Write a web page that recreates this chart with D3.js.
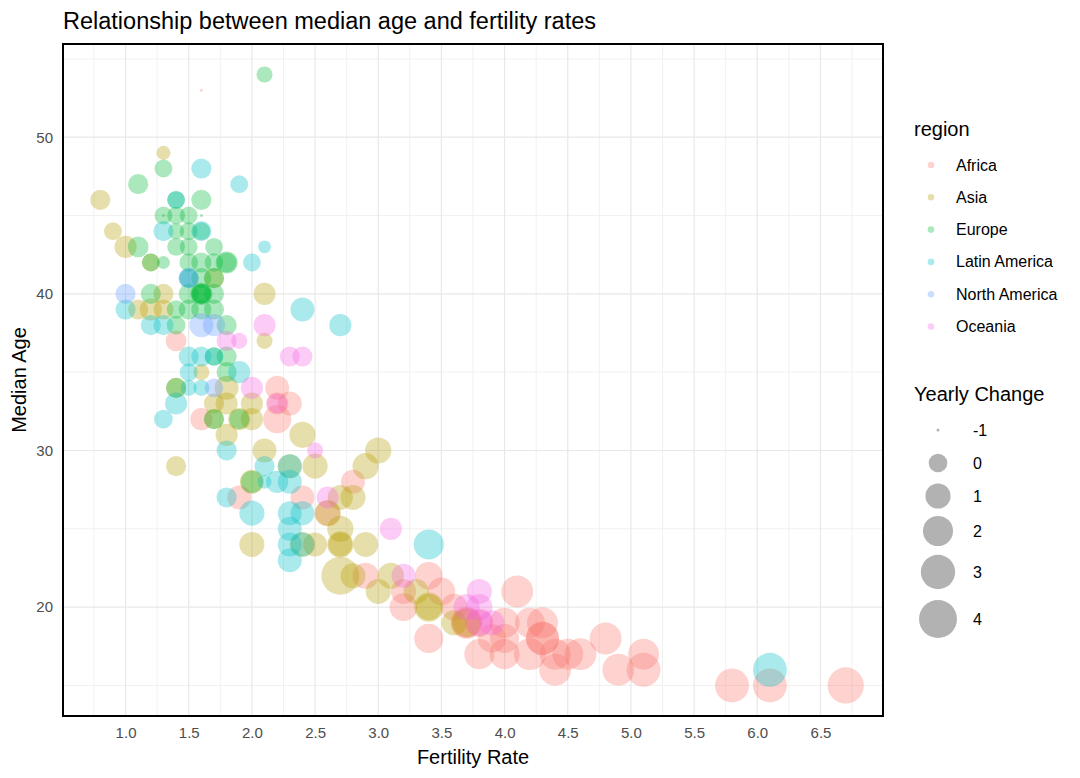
<!DOCTYPE html>
<html>
<head>
<meta charset="utf-8">
<script src="https://cdn.jsdelivr.net/npm/d3@7"></script>
<style>
  html, body { margin: 0; padding: 0; background: #fff; }
  svg { display: block; font-family: "Liberation Sans", Arial, sans-serif; }
</style>
</head>
<body>
<svg id="chart" width="1080" height="778"></svg>
<script>
// ---------------- data: [fertility rate, median age, yearly change %] ----------------
const regions = ["Africa", "Asia", "Europe", "Latin America", "North America", "Oceania"];
const regionColors = ["#F8766D", "#B79F00", "#00BA38", "#00BFC4", "#619CFF", "#F564E3"];

const africa = [
  [1.6,53,-1.0],[1.4,37,0.3],[1.6,32,0.5],[2.2,34,0.8],[2.3,33,0.8],[2.2,33,0.5],[2.2,32,1.6],
  [1.9,27,0.8],[2.4,27,0.8],[2.6,26,1.0],[2.8,28,0.8],[2.9,22,1.2],[3.4,22,1.5],[3.5,21,1.5],
  [3.2,20,1.5],[3.2,21,1.0],[3.4,18,1.8],[3.7,19,2.0],[3.7,19,2.4],[3.8,19,1.6],[4.0,19,2.0],
  [4.0,18,1.8],[4.1,21,2.4],[3.8,17,2.0],[4.2,19,2.0],[4.3,19,2.2],[4.3,18,2.6],[4.3,18,2.8],
  [4.2,17,2.4],[4.4,17,2.2],[4.5,17,2.2],[4.4,16,2.4],[4.6,17,2.4],[4.8,18,2.4],[4.9,16,2.4],
  [5.1,17,2.2],[5.1,16,2.9],[5.8,15,2.9],[6.1,15,2.9],[6.7,15,3.5],[3.9,18,1.6],[3.6,20,1.3],
  [4.0,17,2.0]
];
const asia = [
  [0.8,46,0.2],[0.9,44,-0.1],[1.0,43,0.5],[1.3,49,-0.5],[1.2,42,-0.1],[1.3,40,0.2],[1.1,39,0.2],
  [1.2,39,0.5],[1.3,39,0.2],[1.6,35,-0.3],[1.4,34,0.2],[1.8,34,0.8],[1.7,33,0.2],[1.8,33,0.5],
  [1.7,32,0.2],[1.8,31,0.5],[1.4,29,0.2],[2.1,40,0.5],[2.1,37,-0.3],[2.0,33,0.5],
  [2.0,32,0.5],[2.4,31,1.2],[2.1,30,0.8],[2.5,29,1.0],[2.3,29,0.8],[2.0,28,0.8],[2.7,27,1.0],
  [2.8,27,1.0],[2.0,24,1.0],[2.4,24,1.0],[2.5,24,0.8],[2.7,24,1.2],[2.7,24,0.8],[2.7,22,4.0],
  [2.9,24,1.0],[3.0,30,1.2],[2.9,29,1.2],[2.8,22,1.0],[3.0,21,1.0],[3.1,22,1.2],[3.3,21,1.0],
  [3.4,20,1.8],[3.4,20,1.2],[3.6,19,1.0],[3.7,19,1.6],[1.7,41,0.2],[1.9,32,0.5],[2.6,26,1.2],
  [2.7,25,1.2]
];
const europe = [
  [2.1,54,-0.3],[1.1,47,0.2],[1.3,48,-0.1],[1.6,46,0.2],[1.4,46,-0.1],[1.3,45,-0.1],[1.4,45,-0.1],
  [1.5,45,-0.1],[1.6,45,-1.0],[1.3,45,-1.0],[1.4,44,-0.3],[1.5,44,-0.1],[1.6,44,-0.1],[1.1,43,0.3],
  [1.4,43,-0.1],[1.5,43,-0.1],[1.7,43,-0.1],[1.2,42,-0.1],[1.3,42,-0.6],[1.5,42,0.0],[1.6,42,0.2],
  [1.7,42,0.0],[1.8,42,0.2],[1.8,42,0.5],[1.5,41,0.0],[1.6,41,0.2],[1.7,41,0.2],[1.2,40,0.2],
  [1.5,40,0.2],[1.6,40,0.2],[1.6,40,0.5],[1.6,40,0.2],[1.6,40,0.0],[1.7,40,0.2],[1.4,39,0.0],
  [1.5,39,0.2],[1.7,39,0.2],[1.6,39,0.2],[1.4,38,0.0],[1.8,38,0.2],[1.8,36,0.2],[1.7,36,0.0],
  [1.4,34,0.2],[1.9,32,0.2],[1.7,32,0.2],[2.0,28,0.5],[1.8,35,0.2]
];
const latinAmerica = [
  [1.6,48,0.2],[1.9,47,-0.1],[1.4,46,-0.1],[1.3,44,0.2],[1.6,44,0.2],[2.0,42,-0.1],[2.1,43,-0.6],
  [1.5,41,0.2],[1.0,39,0.2],[1.2,38,0.2],[1.3,38,0.2],[1.5,36,0.2],[1.6,36,0.2],[1.7,36,0.0],
  [1.5,35,-0.1],[1.9,35,0.5],[1.5,34,-0.3],[1.4,33,0.5],[1.3,32,0.0],[1.8,30,0.2],[2.1,29,0.2],
  [2.3,29,0.8],[2.4,39,0.8],[2.7,38,0.5],[2.2,28,0.5],[2.3,28,0.8],[1.8,27,0.2],[2.0,26,1.0],
  [2.3,26,0.8],[2.4,26,0.8],[2.3,25,0.8],[2.3,24,0.8],[2.4,24,0.8],[2.3,23,0.8],[3.4,24,2.0],
  [6.1,16,2.9],[1.6,34,-0.3],[2.1,28,-0.5]
];
const northAmerica = [
  [1.0,40,0.2],[1.6,38,0.8],[1.7,38,0.5],[1.7,34,0.0],[1.5,41,0.2]
];
const oceania = [
  [1.8,37,0.2],[1.9,37,-0.3],[2.1,38,0.5],[2.3,36,0.2],[2.4,36,0.2],[2.0,34,0.5],[2.2,33,0.2],
  [2.5,30,-0.3],[2.6,27,0.5],[3.1,25,0.5],[3.2,22,0.8],[3.8,21,1.0],[3.7,20,1.2],[3.8,20,1.2],
  [3.9,19,1.0],[3.8,19,1.2]
];
const xTicks = [1.0,1.5,2.0,2.5,3.0,3.5,4.0,4.5,5.0,5.5,6.0,6.5];
const yTicks = [20,30,40,50];
const sizeBreaks = [-1,0,1,2,3,4];

const title = "Relationship between median age and fertility rates";
const xTitle = "Fertility Rate";
const yTitle = "Median Age";
const colorTitle = "region";
const sizeTitle = "Yearly Change";

// ---------------- build table ----------------
const groups = [africa, asia, europe, latinAmerica, northAmerica, oceania];
const points = [];
groups.forEach((g, gi) => g.forEach(d => points.push({fert: d[0], age: d[1], change: d[2], region: regions[gi]})));

// ---------------- layout ----------------
const svg = d3.select("#chart");
const P = {left: 63, right: 883, top: 44, bottom: 716};

function expand(ext, f) { const r = ext[1] - ext[0]; return [ext[0] - r * f, ext[1] + r * f]; }
const x = d3.scaleLinear().domain(expand(d3.extent(points, d => d.fert), 0.05)).range([P.left, P.right]);
const y = d3.scaleLinear().domain(expand(d3.extent(points, d => d.age), 0.05)).range([P.bottom, P.top]);
const color = d3.scaleOrdinal().domain(regions).range(regionColors);
const cExt = d3.extent(points, d => d.change);
const sizeR = d3.scalePow().exponent(0.5).domain([0, cExt[1] - cExt[0]]).range([0, 17.5]);
const radius = v => 1.5 + sizeR(v - cExt[0]);
const ALPHA = 0.33;

// grid
const xd = x.domain(), yd = y.domain();
const xMinor = d3.range(0.75, xd[1], 0.5).filter(v => v > xd[0]);
const yMinor = d3.range(15, yd[1], 10).filter(v => v > yd[0]);
const grid = svg.append("g");
grid.selectAll(".xm").data(xMinor).join("line")
  .attr("x1", d => x(d)).attr("x2", d => x(d)).attr("y1", P.top).attr("y2", P.bottom)
  .attr("stroke", "#f1f1f1").attr("stroke-width", 1);
grid.selectAll(".ym").data(yMinor).join("line")
  .attr("y1", d => y(d)).attr("y2", d => y(d)).attr("x1", P.left).attr("x2", P.right)
  .attr("stroke", "#f1f1f1").attr("stroke-width", 1);
grid.selectAll(".xM").data(xTicks).join("line")
  .attr("x1", d => x(d)).attr("x2", d => x(d)).attr("y1", P.top).attr("y2", P.bottom)
  .attr("stroke", "#e8e8e8").attr("stroke-width", 1.2);
grid.selectAll(".yM").data(yTicks).join("line")
  .attr("y1", d => y(d)).attr("y2", d => y(d)).attr("x1", P.left).attr("x2", P.right)
  .attr("stroke", "#e8e8e8").attr("stroke-width", 1.2);

// points
svg.append("g").selectAll("circle").data(points).join("circle")
  .attr("cx", d => x(d.fert)).attr("cy", d => y(d.age)).attr("r", d => radius(d.change))
  .attr("fill", d => color(d.region)).attr("fill-opacity", ALPHA);

// border
svg.append("rect").attr("x", P.left).attr("y", P.top)
  .attr("width", P.right - P.left).attr("height", P.bottom - P.top)
  .attr("fill", "none").attr("stroke", "#000").attr("stroke-width", 2);

// axes
const xAxis = svg.append("g").attr("transform", `translate(0,${P.bottom})`)
  .call(d3.axisBottom(x).tickValues(xTicks).tickFormat(d3.format(".1f")).tickSize(0).tickPadding(11));
const yAxis = svg.append("g").attr("transform", `translate(${P.left},0)`)
  .call(d3.axisLeft(y).tickValues(yTicks).tickSize(0).tickPadding(10));
[xAxis, yAxis].forEach(a => {
  a.select(".domain").remove();
  a.selectAll("text").attr("fill", "#4d4d4d").style("font-size", "15px")
   .style("font-family", "'Liberation Sans', Arial, sans-serif");
});

// titles
svg.append("text").attr("x", 63).attr("y", 29).text(title)
  .style("font-size", "23.5px").attr("fill", "#000");
svg.append("text").attr("x", (P.left + P.right) / 2).attr("y", 764).attr("text-anchor", "middle")
  .text(xTitle).style("font-size", "20px").attr("fill", "#000");
svg.append("text").attr("transform", `translate(26,${(P.top + P.bottom) / 2}) rotate(-90)`)
  .attr("text-anchor", "middle").text(yTitle).style("font-size", "20px").attr("fill", "#000");

// colour legend
const lg = svg.append("g");
lg.append("text").attr("x", 914).attr("y", 136).text(colorTitle).style("font-size", "20px");
const rk = lg.selectAll(".rk").data(regions).join("g")
  .attr("transform", (d, i) => `translate(0,${165 + i * 32.3})`);
rk.append("circle").attr("cx", 931).attr("cy", 0).attr("r", 3.3)
  .attr("fill", d => color(d)).attr("fill-opacity", ALPHA);
rk.append("text").attr("x", 956).attr("y", 5.5).text(d => d).style("font-size", "16px");

// size legend
lg.append("text").attr("x", 914).attr("y", 401).text(sizeTitle).style("font-size", "20px");
const keyY = [430, 463, 496, 531, 572, 619];
const sk = lg.selectAll(".sk").data(sizeBreaks).join("g")
  .attr("transform", (d, i) => `translate(0,${keyY[i]})`);
sk.append("circle").attr("cx", 938).attr("cy", 0).attr("r", d => radius(d))
  .attr("fill", "#000").attr("fill-opacity", 0.3);
sk.append("text").attr("x", 973).attr("y", 5.5).text(d => d).style("font-size", "16px");
</script>
</body>
</html>
